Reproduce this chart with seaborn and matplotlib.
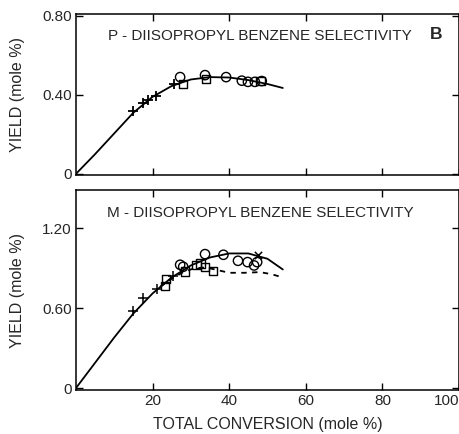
import matplotlib
matplotlib.use("Agg")
import matplotlib.pyplot as plt
import seaborn as sns

# ---- para-diisopropylbenzene selectivity (top panel) ----
p_curve_x = [0, 5, 10, 15, 20, 25, 30, 35, 40, 45, 50, 54]
p_curve_y = [0, 0.10, 0.205, 0.31, 0.39, 0.445, 0.478, 0.49, 0.488, 0.475, 0.455, 0.435]
p_plus_x = [14.9, 17.5, 18.9, 20.8, 25.5]
p_plus_y = [0.318, 0.36, 0.372, 0.395, 0.456]
p_circle_x = [27.2, 33.7, 39.2, 43.3, 44.9, 46.7, 48.5]
p_circle_y = [0.49, 0.50, 0.49, 0.472, 0.466, 0.466, 0.47]
p_square_x = [28.0, 34.0, 48.2]
p_square_y = [0.455, 0.48, 0.47]

# ---- meta-diisopropylbenzene selectivity (bottom panel) ----
m_curve_x = [0, 5, 10, 15, 20, 25, 30, 35, 40, 45, 50, 54]
m_curve_y = [0, 0.19, 0.38, 0.56, 0.71, 0.83, 0.92, 0.98, 1.01, 1.01, 0.97, 0.89]
m_dash_x = [22, 25, 28, 31, 34, 37, 40, 44, 48, 51, 54]
m_dash_y = [0.76, 0.82, 0.87, 0.90, 0.905, 0.885, 0.865, 0.865, 0.87, 0.855, 0.83]
m_plus_x = [14.9, 17.5, 21.1, 25.3]
m_plus_y = [0.58, 0.675, 0.745, 0.84]
m_circle_x = [27.2, 28.0, 33.7, 38.5, 42.3, 44.8, 46.5, 47.3]
m_circle_y = [0.925, 0.91, 1.005, 1.0, 0.955, 0.945, 0.92, 0.945]
m_square_x = [23.2, 23.5, 28.5, 31.5, 32.5, 33.7, 35.8]
m_square_y = [0.765, 0.82, 0.875, 0.925, 0.935, 0.91, 0.88]
m_cross_x = [47.5]
m_cross_y = [1.0]

x_tick_values = [20, 40, 60, 80, 100]
x_tick_labels = ["20", "40", "60", "80", "100"]

sns.set_style("ticks")
plt.rcParams["font.family"] = ["Liberation Sans", "DejaVu Sans"]
plt.rcParams["font.size"] = 11

fig = plt.figure(figsize=(4.6, 4.34), dpi=100)
ax1 = fig.add_axes([0.165, 0.597, 0.833, 0.371])
ax2 = fig.add_axes([0.165, 0.101, 0.833, 0.461])

ink = "black"


def markers(ax, xs, ys, marker, size, lw=1.0):
    sns.scatterplot(x=xs, y=ys, ax=ax, marker=marker, s=size,
                    facecolor="none" if marker in ("o", "s") else ink,
                    edgecolor=ink, color=ink, linewidth=lw, zorder=3, legend=False)


# top panel
sns.lineplot(x=p_curve_x, y=p_curve_y, ax=ax1, color=ink, linewidth=1.3, sort=False)
markers(ax1, p_plus_x, p_plus_y, "+", 55, 1.3)
markers(ax1, p_circle_x, p_circle_y, "o", 45)
markers(ax1, p_square_x, p_square_y, "s", 38)

# bottom panel
sns.lineplot(x=m_curve_x, y=m_curve_y, ax=ax2, color=ink, linewidth=1.3, sort=False)
sns.lineplot(x=m_dash_x, y=m_dash_y, ax=ax2, color=ink, linewidth=1.3,
             linestyle=(0, (3, 3)), sort=False)
markers(ax2, m_plus_x, m_plus_y, "+", 55, 1.1)
markers(ax2, m_circle_x, m_circle_y, "o", 45)
markers(ax2, m_square_x, m_square_y, "s", 38)
markers(ax2, m_cross_x, m_cross_y, "x", 28, 1.1)

for ax in (ax1, ax2):
    ax.set_xlim(0, 100)
    ax.set_xticks(x_tick_values)
    ax.tick_params(direction="in", length=5, width=1, top=True, right=True,
                   labelsize=11, pad=3, color=ink)
    for sp in ax.spines.values():
        sp.set_linewidth(1.1)
        sp.set_color(ink)

ax1.set_ylim(-0.005, 0.81)
ax1.set_yticks([0, 0.40, 0.80])
ax1.set_yticklabels(["0", "0.40", "0.80"])
ax1.tick_params(axis="x", labelbottom=False)
ax1.set_ylabel("YIELD (mole %)", fontsize=11.5, labelpad=12)

ax2.set_ylim(-0.015, 1.485)
ax2.set_yticks([0, 0.60, 1.20])
ax2.set_yticklabels(["0", "0.60", "1.20"])
ax2.set_xticklabels(x_tick_labels)
# keep the last label inside the figure edge
ax2.get_xticklabels()[-1].set_horizontalalignment("right")
ax2.set_ylabel("YIELD (mole %)", fontsize=11.5, labelpad=12)
ax2.set_xlabel("TOTAL CONVERSION (mole %)", fontsize=11.5, labelpad=6)

ax1.text(0.48, 0.86, "P - DIISOPROPYL BENZENE SELECTIVITY", transform=ax1.transAxes,
         ha="center", va="center", fontsize=11)
ax1.text(0.94, 0.87, "B", transform=ax1.transAxes, ha="center", va="center",
         fontsize=12.5, fontweight="bold")
ax2.text(0.48, 0.885, "M - DIISOPROPYL BENZENE SELECTIVITY", transform=ax2.transAxes,
         ha="center", va="center", fontsize=11)

fig.savefig("out.png", dpi=100)
